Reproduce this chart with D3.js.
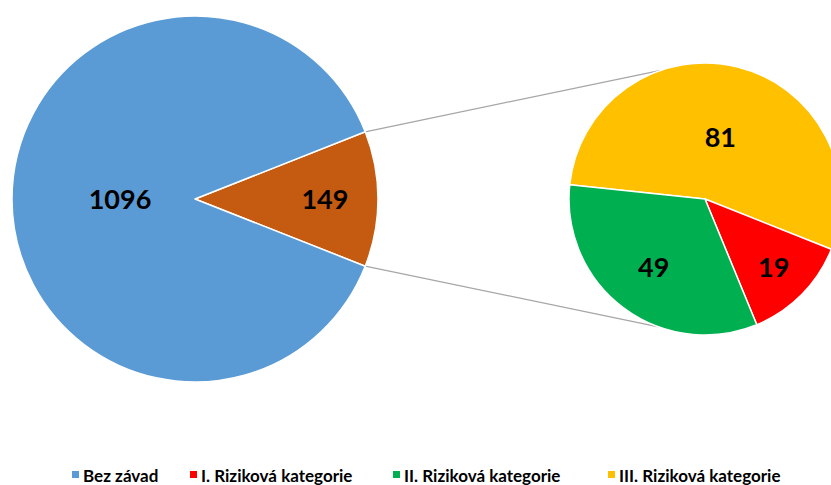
<!DOCTYPE html>
<html>
<head>
<meta charset="utf-8">
<script src="https://cdn.jsdelivr.net/npm/d3@7"></script>
<style>
  body { margin: 0; background: #fff; }
  svg { display: block; font-family: Lato, "Open Sans", sans-serif; }
</style>
</head>
<body>
<svg width="831" height="485"></svg>
<script>
// main pie: "Bez závad" vs. all risk categories together
const mainLabels = ["Rizikové", "Bez závad"];
const mainValues = [149, 1096];
const mainColors = ["#C55A11", "#5B9BD5"];

// secondary pie: breakdown of the 149
const subLabels = ["III. Riziková kategorie", "I. Riziková kategorie", "II. Riziková kategorie"];
const subValues = [81, 19, 49];
const subColors = ["#FFC000", "#FF0000", "#00B050"];

const legendLabels = ["Bez závad", "I. Riziková kategorie", "II. Riziková kategorie", "III. Riziková kategorie"];
const legendColors = ["#5B9BD5", "#FF0000", "#00B050", "#FFC000"];

const svg = d3.select("svg");
const deg = Math.PI / 180;

const main = { cx: 195, cy: 199, r: 183 };
const sub = { cx: 705, cy: 199, r: 136 };

// orange slice centred on the right side
const mainShare = mainValues[0] / d3.sum(mainValues) * 360;
const mainPie = d3.pie().sort(null).value(d => d)
  .startAngle(90 * deg - mainShare / 2 * deg)
  .endAngle(90 * deg - mainShare / 2 * deg + 2 * Math.PI);
const subPie = d3.pie().sort(null).value(d => d)
  .startAngle(-84 * deg).endAngle(-84 * deg + 2 * Math.PI);

const mainArcs = mainPie(mainValues);
const subArcs = subPie(subValues);

// connector lines from the orange slice edges to the secondary pie
const pt = (c, r, a) => [c.cx + r * Math.sin(a), c.cy - r * Math.cos(a)];
const orange = mainArcs[0];
const lines = [
  [pt(main, main.r, orange.startAngle), pt(sub, sub.r, -19 * deg)],
  [pt(main, main.r, orange.endAngle), pt(sub, sub.r, 200 * deg)]
];
svg.append("g").selectAll("line")
  .data(lines)
  .enter().append("line")
  .attr("x1", d => d[0][0]).attr("y1", d => d[0][1])
  .attr("x2", d => d[1][0]).attr("y2", d => d[1][1])
  .attr("stroke", "#a6a6a6")
  .attr("stroke-width", 1.2);

function drawPie(c, arcs, colors, labelFactors) {
  const g = svg.append("g").attr("transform", `translate(${c.cx},${c.cy})`);
  const arc = d3.arc().innerRadius(0).outerRadius(c.r);

  g.selectAll("path")
    .data(arcs)
    .enter().append("path")
    .attr("d", arc)
    .attr("fill", (d, i) => colors[i])
    .attr("stroke", "#fff")
    .attr("stroke-width", 1.5)
    .attr("stroke-linejoin", "round");

  g.selectAll("text")
    .data(arcs)
    .enter().append("text")
    .attr("transform", (d, i) => {
      const a = (d.startAngle + d.endAngle) / 2;
      const rr = c.r * labelFactors[i];
      return `translate(${rr * Math.sin(a)},${-rr * Math.cos(a)})`;
    })
    .attr("text-anchor", "middle")
    .attr("dy", "0.36em")
    .style("font-size", "27px")
    .style("font-weight", "bold")
    .attr("fill", "#000")
    .text(d => d.value);
}

drawPie(main, mainArcs, mainColors, [0.71, 0.41]);
drawPie(sub, subArcs, subColors, [0.47, 0.71, 0.63]);

// legend, one entry after another across the bottom
const legendX = [72, 190, 393, 608];
const legend = svg.append("g").attr("transform", "translate(0,476)");
const item = legend.selectAll("g")
  .data(legendLabels)
  .enter().append("g")
  .attr("transform", (d, i) => `translate(${legendX[i]},0)`);

item.append("rect")
  .attr("y", -5)
  .attr("width", 7)
  .attr("height", 7)
  .attr("fill", (d, i) => legendColors[i]);

item.append("text")
  .attr("x", 11)
  .attr("y", 0)
  .attr("dy", "0.34em")
  .style("font-size", "17px")
  .style("font-weight", "bold")
  .attr("fill", "#000")
  .text(d => d);
</script>
</body>
</html>
